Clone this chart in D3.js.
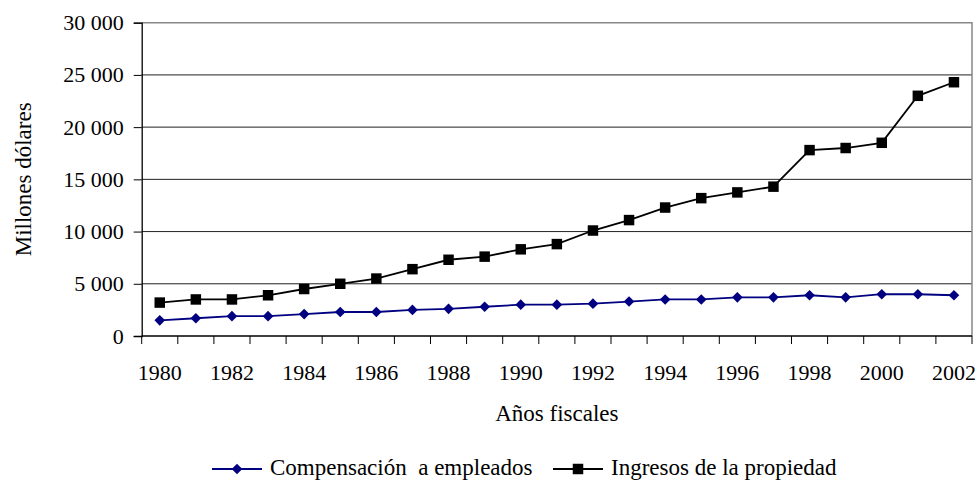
<!DOCTYPE html>
<html>
<head>
<meta charset="utf-8">
<script src="https://cdn.jsdelivr.net/npm/d3@7"></script>
<style>
  body { margin: 0; background: #fff; }
  svg text { font-family: "Liberation Serif", "Times New Roman", "DejaVu Serif", serif !important; fill: #000; }
</style>
</head>
<body>
<div id="visual"></div>
<script>
// data
const years = d3.range(1980, 2003).map(String);
const compensacion = [1500, 1700, 1900, 1900, 2100, 2300, 2300, 2500, 2600, 2800, 3000, 3000,
  3100, 3300, 3500, 3500, 3700, 3700, 3900, 3700, 4000, 4000, 3900];
const ingresos = [3200, 3500, 3500, 3900, 4500, 5000, 5500, 6400, 7300, 7600, 8300, 8800,
  10100, 11100, 12300, 13200, 13750, 14300, 17800, 18000, 18500, 23000, 24300];
const yTicks = [0, 5000, 10000, 15000, 20000, 25000, 30000];
const seriesNames = ["Compensación  a empleados", "Ingresos de la propiedad"];

const W = 979, H = 481;
const mLeft = 141.7, mRight = 972, mTop = 22.7, mBottom = 336;
const serif = "'Liberation Serif', 'Times New Roman', 'DejaVu Serif', serif";

const svg = d3.select("#visual").append("svg")
  .attr("width", W)
  .attr("height", H)
  .attr("font-family", serif);

const x = d3.scaleBand().domain(years).range([mLeft, mRight]).padding(0);
const y = d3.scaleLinear().domain([0, 30000]).range([mBottom, mTop]);
const fmt = v => d3.format(",")(v).replace(/,/g, " ");

// gridlines
svg.append("g").selectAll("line")
  .data(yTicks.filter(d => d > 0 && d < 30000))
  .join("line")
  .attr("x1", mLeft).attr("x2", mRight)
  .attr("y1", d => y(d)).attr("y2", d => y(d))
  .attr("stroke", "#222").attr("stroke-width", 1);

// plot border (grey top & right)
svg.append("path")
  .attr("d", `M${mLeft},${y(30000)}H${mRight}V${mBottom}`)
  .attr("fill", "none").attr("stroke", "#888").attr("stroke-width", 1.5);

// y axis
const yAxis = svg.append("g")
  .attr("transform", `translate(${mLeft},0)`)
  .call(d3.axisLeft(y).tickValues(yTicks).tickFormat(fmt).tickSize(8).tickPadding(10));
yAxis.attr("font-family", serif).attr("font-size", 22);
yAxis.select(".domain").attr("stroke", "#000").attr("stroke-width", 1.3);
yAxis.selectAll(".tick line").attr("stroke", "#000");
yAxis.selectAll("text").style("font-family", serif).style("font-size", "22px");

// x axis: ticks on category boundaries
const xAxis = svg.append("g");
xAxis.append("line")
  .attr("x1", mLeft).attr("x2", mRight)
  .attr("y1", mBottom).attr("y2", mBottom)
  .attr("stroke", "#000").attr("stroke-width", 1.5);
xAxis.selectAll(".xt")
  .data(years.concat(["end"]))
  .join("line")
  .attr("class", "xt")
  .attr("x1", d => d === "end" ? mRight : x(d))
  .attr("x2", d => d === "end" ? mRight : x(d))
  .attr("y1", mBottom).attr("y2", mBottom + 8)
  .attr("stroke", "#000");
xAxis.selectAll(".xl")
  .data(years.filter((d, i) => i % 2 === 0))
  .join("text")
  .attr("class", "xl")
  .attr("x", d => x(d) + x.bandwidth() / 2)
  .attr("y", 380)
  .attr("text-anchor", "middle")
  .style("font-family", serif)
  .style("font-size", "22px")
  .text(d => d);

// axis titles
svg.append("text")
  .attr("x", (mLeft + mRight) / 2)
  .attr("y", 421)
  .attr("text-anchor", "middle")
  .style("font-family", serif)
  .style("font-size", "23px")
  .text("Años fiscales");

svg.append("text")
  .attr("transform", `translate(31,${(mTop + mBottom) / 2}) rotate(-90)`)
  .attr("text-anchor", "middle")
  .style("font-family", serif)
  .style("font-size", "23px")
  .text("Millones dólares");

// lines
const cx = d => x(d) + x.bandwidth() / 2;
const line = d3.line().x(d => cx(d[0])).y(d => y(d[1]));

const diamond = d3.symbol().type(d3.symbolDiamond2).size(72);
const square = d3.symbol().type(d3.symbolSquare).size(110);

svg.append("path")
  .datum(d3.zip(years, compensacion))
  .attr("d", line)
  .attr("fill", "none").attr("stroke", "#000080").attr("stroke-width", 1.8);
svg.append("g").selectAll("path")
  .data(d3.zip(years, compensacion))
  .join("path")
  .attr("transform", d => `translate(${cx(d[0])},${y(d[1])})`)
  .attr("d", diamond)
  .attr("fill", "#000080");

svg.append("path")
  .datum(d3.zip(years, ingresos))
  .attr("d", line)
  .attr("fill", "none").attr("stroke", "#000").attr("stroke-width", 1.8);
svg.append("g").selectAll("path")
  .data(d3.zip(years, ingresos))
  .join("path")
  .attr("transform", d => `translate(${cx(d[0])},${y(d[1])})`)
  .attr("d", square)
  .attr("fill", "#000");

// legend
const legY = 469;
const legend = [
  { name: seriesNames[0], color: "#000080", sym: diamond, x0: 212 },
  { name: seriesNames[1], color: "#000", sym: square, x0: 553 }
];
const lg = svg.append("g").selectAll("g").data(legend).join("g")
  .attr("transform", d => `translate(${d.x0},${legY})`);
lg.append("line")
  .attr("x1", 0).attr("x2", 50)
  .attr("stroke", d => d.color).attr("stroke-width", 1.8);
lg.append("path")
  .attr("transform", "translate(25,0)")
  .attr("d", d => d.sym())
  .attr("fill", d => d.color);
lg.append("text")
  .attr("x", 58)
  .attr("y", 6)
  .style("font-family", serif)
  .style("font-size", "23px")
  .style("white-space", "pre")
  .text(d => d.name);
</script>
</body>
</html>
